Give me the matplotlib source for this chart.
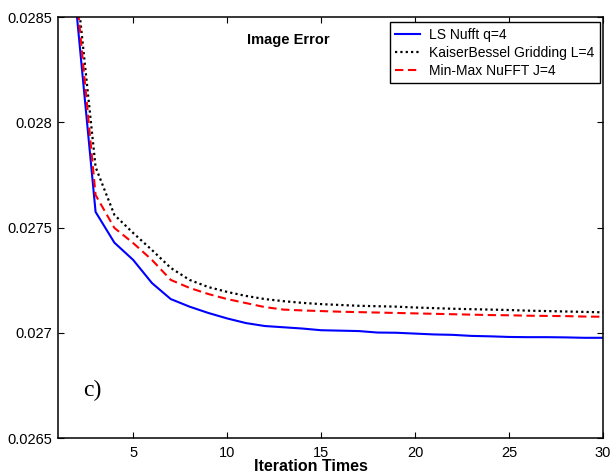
import numpy as np
import matplotlib
matplotlib.use('Agg')
import matplotlib.pyplot as plt
plt.rcParams['font.family'] = ['Liberation Sans', 'DejaVu Sans']

# iteration index
iters = list(range(1, 31))

# LS Nufft q=4 (blue)
ls_nufft = [0.0310, 0.02851, 0.027574, 0.027428, 0.027346, 0.027236, 0.027160, 0.027124,
            0.027094, 0.027068, 0.027046, 0.027032, 0.027026, 0.027020, 0.027012, 0.027010,
            0.027008, 0.027001, 0.027000, 0.026996, 0.026992, 0.026990, 0.026985, 0.026983,
            0.026980, 0.026979, 0.026979, 0.026978, 0.026976, 0.026976]

# KaiserBessel Gridding L=4 (black dotted)
kb_grid = [0.0312, 0.028646, 0.027787, 0.027560, 0.027474, 0.027393, 0.027308, 0.027251,
           0.027217, 0.027194, 0.027175, 0.027160, 0.027150, 0.027142, 0.027136, 0.027132,
           0.027128, 0.027126, 0.027124, 0.027120, 0.027117, 0.027114, 0.027112, 0.027110,
           0.027108, 0.027105, 0.027103, 0.027101, 0.027099, 0.027097]

# Min-Max NuFFT J=4 (red dashed)
minmax = [0.0311, 0.028594, 0.027654, 0.027498, 0.027426, 0.027346, 0.027251, 0.027213,
          0.027184, 0.027160, 0.027141, 0.027122, 0.027110, 0.027106, 0.027103, 0.027100,
          0.027098, 0.027096, 0.027094, 0.027092, 0.027090, 0.027088, 0.027086, 0.027084,
          0.027083, 0.027081, 0.027080, 0.027079, 0.027077, 0.027076]

xticks = [5, 10, 15, 20, 25, 30]
yticks = [0.0265, 0.027, 0.0275, 0.028, 0.0285]
ytick_labels = ['0.0265', '0.027', '0.0275', '0.028', '0.0285']

fig = plt.figure(figsize=(6.13, 4.73), dpi=100)
ax = fig.add_axes([58/613, 1 - 438/473, 545/613, 421/473])

ax.plot(iters, ls_nufft, color='#0000ff', lw=1.5, label='LS Nufft q=4')
ax.plot(iters, kb_grid, color='k', lw=1.6, ls=(0, (1, 1.4)), label='KaiserBessel Gridding L=4')
ax.plot(iters, minmax, color='#ff0000', lw=1.5, ls=(0, (4, 2.2)), label='Min-Max NuFFT J=4')

ax.set_xlim(1, 30)
ax.set_ylim(0.0265, 0.0285)
ax.set_xticks(xticks)
ax.set_yticks(yticks)
ax.set_yticklabels(ytick_labels)
ax.tick_params(direction='in', length=4, width=0.8, top=True, right=True,
               labelsize=10.5, colors='k')
ax.tick_params(axis='x', pad=6)
ax.tick_params(axis='y', pad=4)
for s in ax.spines.values():
    s.set_linewidth(1.1)

# x label sits right under the tick labels, a bit left of centre
fig.text(311 / 613, 1 - 471 / 473, 'Iteration Times', fontweight='bold', fontsize=11.5,
         ha='center', va='baseline')

ax.text((288 - 58) / 545, (438 - 40) / 421, 'Image Error', transform=ax.transAxes,
        fontweight='bold', fontsize=10.5, ha='center', va='center')
ax.text((92 - 58) / 545, (438 - 390) / 421, 'c)', transform=ax.transAxes,
        family='Liberation Serif', fontsize=17, ha='center', va='center')

leg = ax.legend(loc='upper right', bbox_to_anchor=((600 - 58) / 545, (438 - 22) / 421),
                fontsize=10, handlelength=1.8, handletextpad=0.65, labelspacing=0.3,
                borderpad=0.4, borderaxespad=0, fancybox=False, framealpha=1,
                edgecolor='k')
leg.get_frame().set_linewidth(1.0)

plt.savefig('out.png', dpi=100)
